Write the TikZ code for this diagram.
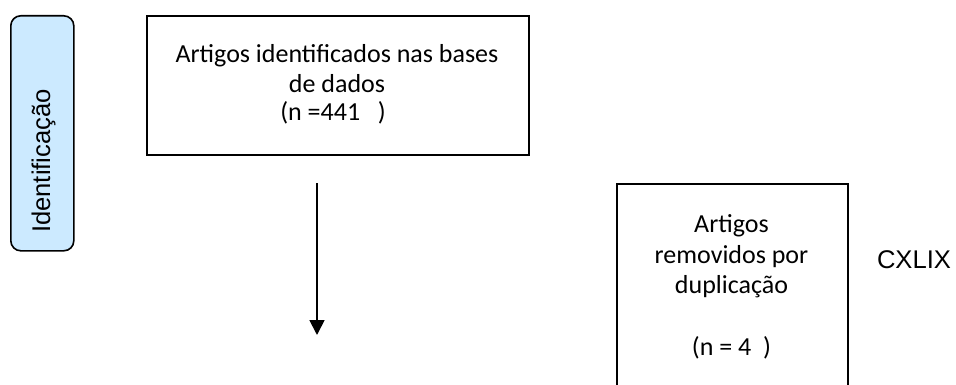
\documentclass[tikz,border=0pt]{standalone}
\usepackage{fontspec}
\setmainfont{Carlito}
\newfontfamily\arialfont{Liberation Sans}
\usetikzlibrary{arrows.meta}
\definecolor{stagefill}{RGB}{204,234,255}
\tikzset{
  box/.style={draw=black, line width=1.6pt, rectangle, inner sep=0pt, anchor=north west},
  stage/.style={draw=black, line width=1.6pt, rounded corners=10pt, fill=stagefill, rectangle, inner sep=0pt, anchor=north west},
  calib/.style={font=\fontsize{26}{31}\selectfont, inner sep=0pt, anchor=base},
  arial/.style={font=\arialfont\fontsize{25.6}{30}\selectfont, inner sep=0pt, anchor=base},
  flow/.style={line width=1.8pt, -{Triangle[width=15pt,length=15pt]}}
}
\begin{document}
\begin{tikzpicture}[x=1pt,y=-1pt]
\clip (0,0) rectangle (956,385);
\fill[white] (0,0) rectangle (956,385);
% stage label
\node[stage, minimum width=63pt, minimum height=235pt] (stg) at (10,15) {};
\node[arial, rotate=90] (stgtxt) at (50,161) {Identificação};
% main box
\node[box, minimum width=382pt, minimum height=139pt] (ident) at (146,15) {};
\node[calib] (i1) at (337,63) {Artigos identificados nas bases};
\node[calib] (i2) at (337,92.5) {de dados};
\node[calib] (i3) at (333,121) {(n =441\ \ \ )};
% duplicates box
\node[box, minimum width=231pt, minimum height=240pt] (dup) at (616,183) {};
\node[calib] (d1) at (731.5,232) {Artigos};
\node[calib] (d2) at (731.5,263) {removidos por};
\node[calib] (d3) at (731.5,293) {duplicação};
\node[calib] (d4) at (731.5,355) {(n = 4\ \ )};
% side label
\node[arial] (cx) at (914,268) {CXLIX};
% arrow
\coordinate (astart) at (317,183);
\coordinate (aend) at (317,335);
\draw[flow] (astart) -- (aend);
\end{tikzpicture}
\end{document}
